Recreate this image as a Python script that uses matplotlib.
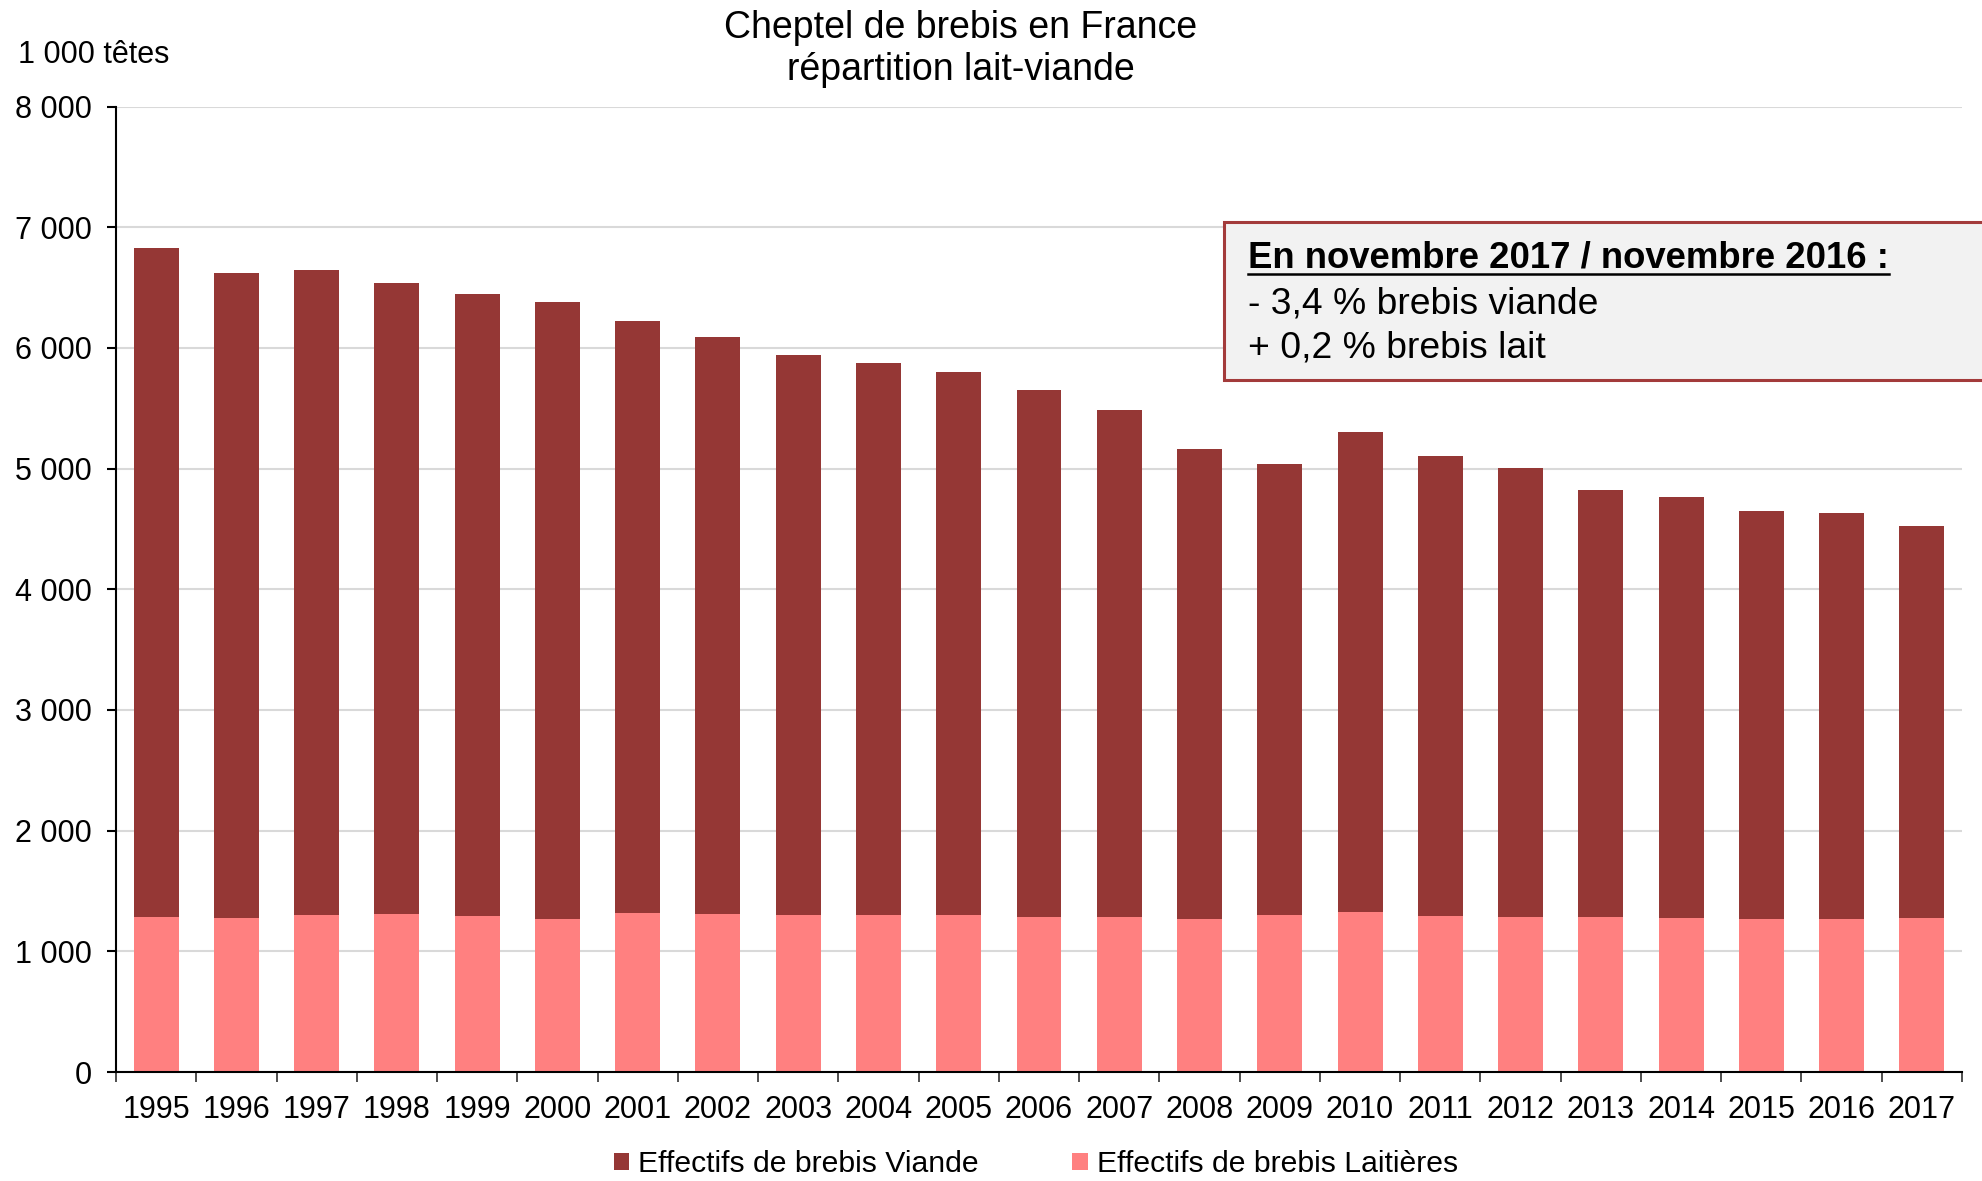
import matplotlib
matplotlib.use("Agg")
import matplotlib.pyplot as plt
from matplotlib.patches import Rectangle
from matplotlib.lines import Line2D
import numpy as np

plt.rcParams['font.family'] = ['Liberation Sans', 'DejaVu Sans']

years = [str(y) for y in range(1995, 2018)]
lait = [1282, 1278, 1303, 1312, 1292, 1270, 1320, 1312, 1303, 1298, 1301, 1282,
        1282, 1268, 1303, 1323, 1292, 1284, 1284, 1273, 1268, 1270, 1273]
viande = [5547, 5342, 5339, 5225, 5154, 5112, 4900, 4780, 4637, 4579, 4501, 4366,
          4200, 3891, 3737, 3977, 3812, 3718, 3535, 3488, 3380, 3364, 3251]
yticks = [0, 1000, 2000, 3000, 4000, 5000, 6000, 7000, 8000]
ytick_labels = ["0", "1 000", "2 000", "3 000", "4 000", "5 000", "6 000", "7 000", "8 000"]

title_text = "Cheptel de brebis en France\nrépartition lait-viande"
unit_text = "1 000 têtes"
box_title = "En novembre 2017 / novembre 2016 :"
box_lines = ["- 3,4 % brebis viande", "+ 0,2 % brebis lait"]
legend_labels = ["Effectifs de brebis Viande", "Effectifs de brebis Laitières"]

c_viande = "#953735"
c_lait = "#FF8080"

W, H = 1982, 1181
fig = plt.figure(figsize=(W / 100, H / 100), dpi=100)
ax = fig.add_axes([116 / W, 1 - 1072 / H, (1962 - 116) / W, (1072 - 106.5) / H])

x = np.arange(len(years))
b1 = ax.bar(x, lait, width=0.56, color=c_lait, zorder=2, label=legend_labels[1])
b2 = ax.bar(x, viande, width=0.56, bottom=lait, color=c_viande, zorder=2, label=legend_labels[0])

ax.set_xlim(-0.5, len(years) - 0.5)
ax.set_ylim(0, 8000)
ax.set_yticks(yticks)
ax.set_yticklabels(ytick_labels, fontsize=22)
ax.yaxis.grid(True, color="#D9D9D9", linewidth=1.5, zorder=0)
ax.set_axisbelow(True)

ax.set_xticks(x)
ax.set_xticklabels(years, fontsize=22)
ax.set_xticks(np.arange(-0.5, len(years), 1.0), minor=True)
ax.tick_params(axis='x', which='major', length=0, pad=16.5)
ax.tick_params(axis='x', which='minor', length=7, width=1.3, direction='out', color='#404040')
ax.tick_params(axis='y', which='major', length=6.5, width=1.5, direction='out', pad=11)

for s in ['top', 'right']:
    ax.spines[s].set_visible(False)
ax.spines['left'].set_linewidth(1.5)
ax.spines['bottom'].set_linewidth(1.5)

fig.text(961 / W, 1 - 49 / H, title_text, ha='center', va='center', fontsize=27, linespacing=1.2)
fig.text(18 / W, 1 - 55 / H, unit_text, ha='left', va='center', fontsize=22)

# annotation box
rect = Rectangle((1224 / W, 1 - 380 / H), (1990 - 1224) / W, (380 - 222) / H,
                 transform=fig.transFigure, facecolor="#F2F2F2", edgecolor="#A33B3B",
                 linewidth=2.2, zorder=5, clip_on=False)
fig.patches.append(rect)
t1 = fig.text(1248 / W, 1 - 258 / H, box_title, ha='left', va='center', fontsize=26.3,
              fontweight='bold', zorder=6)
fig.text(1248 / W, 1 - 303.5 / H, box_lines[0], ha='left', va='center', fontsize=26.8, zorder=6)
fig.text(1248 / W, 1 - 348.5 / H, box_lines[1], ha='left', va='center', fontsize=26.8, zorder=6)

fig.canvas.draw()
bb = t1.get_window_extent()
uy = 1 - 274 / H
fig.add_artist(Line2D([bb.x0 / W, bb.x1 / W], [uy, uy], transform=fig.transFigure,
                      color='black', linewidth=1.8, zorder=6))

leg = fig.legend(handles=[b2, b1], labels=legend_labels, loc='center', bbox_to_anchor=(1036 / W, 1 - 1164 / H),
                 ncol=2, frameon=False, fontsize=21.7, handlelength=0.5, handleheight=0.5,
                 handletextpad=0.3, columnspacing=3.1, borderpad=0)

fig.savefig("out.png", dpi=100)
